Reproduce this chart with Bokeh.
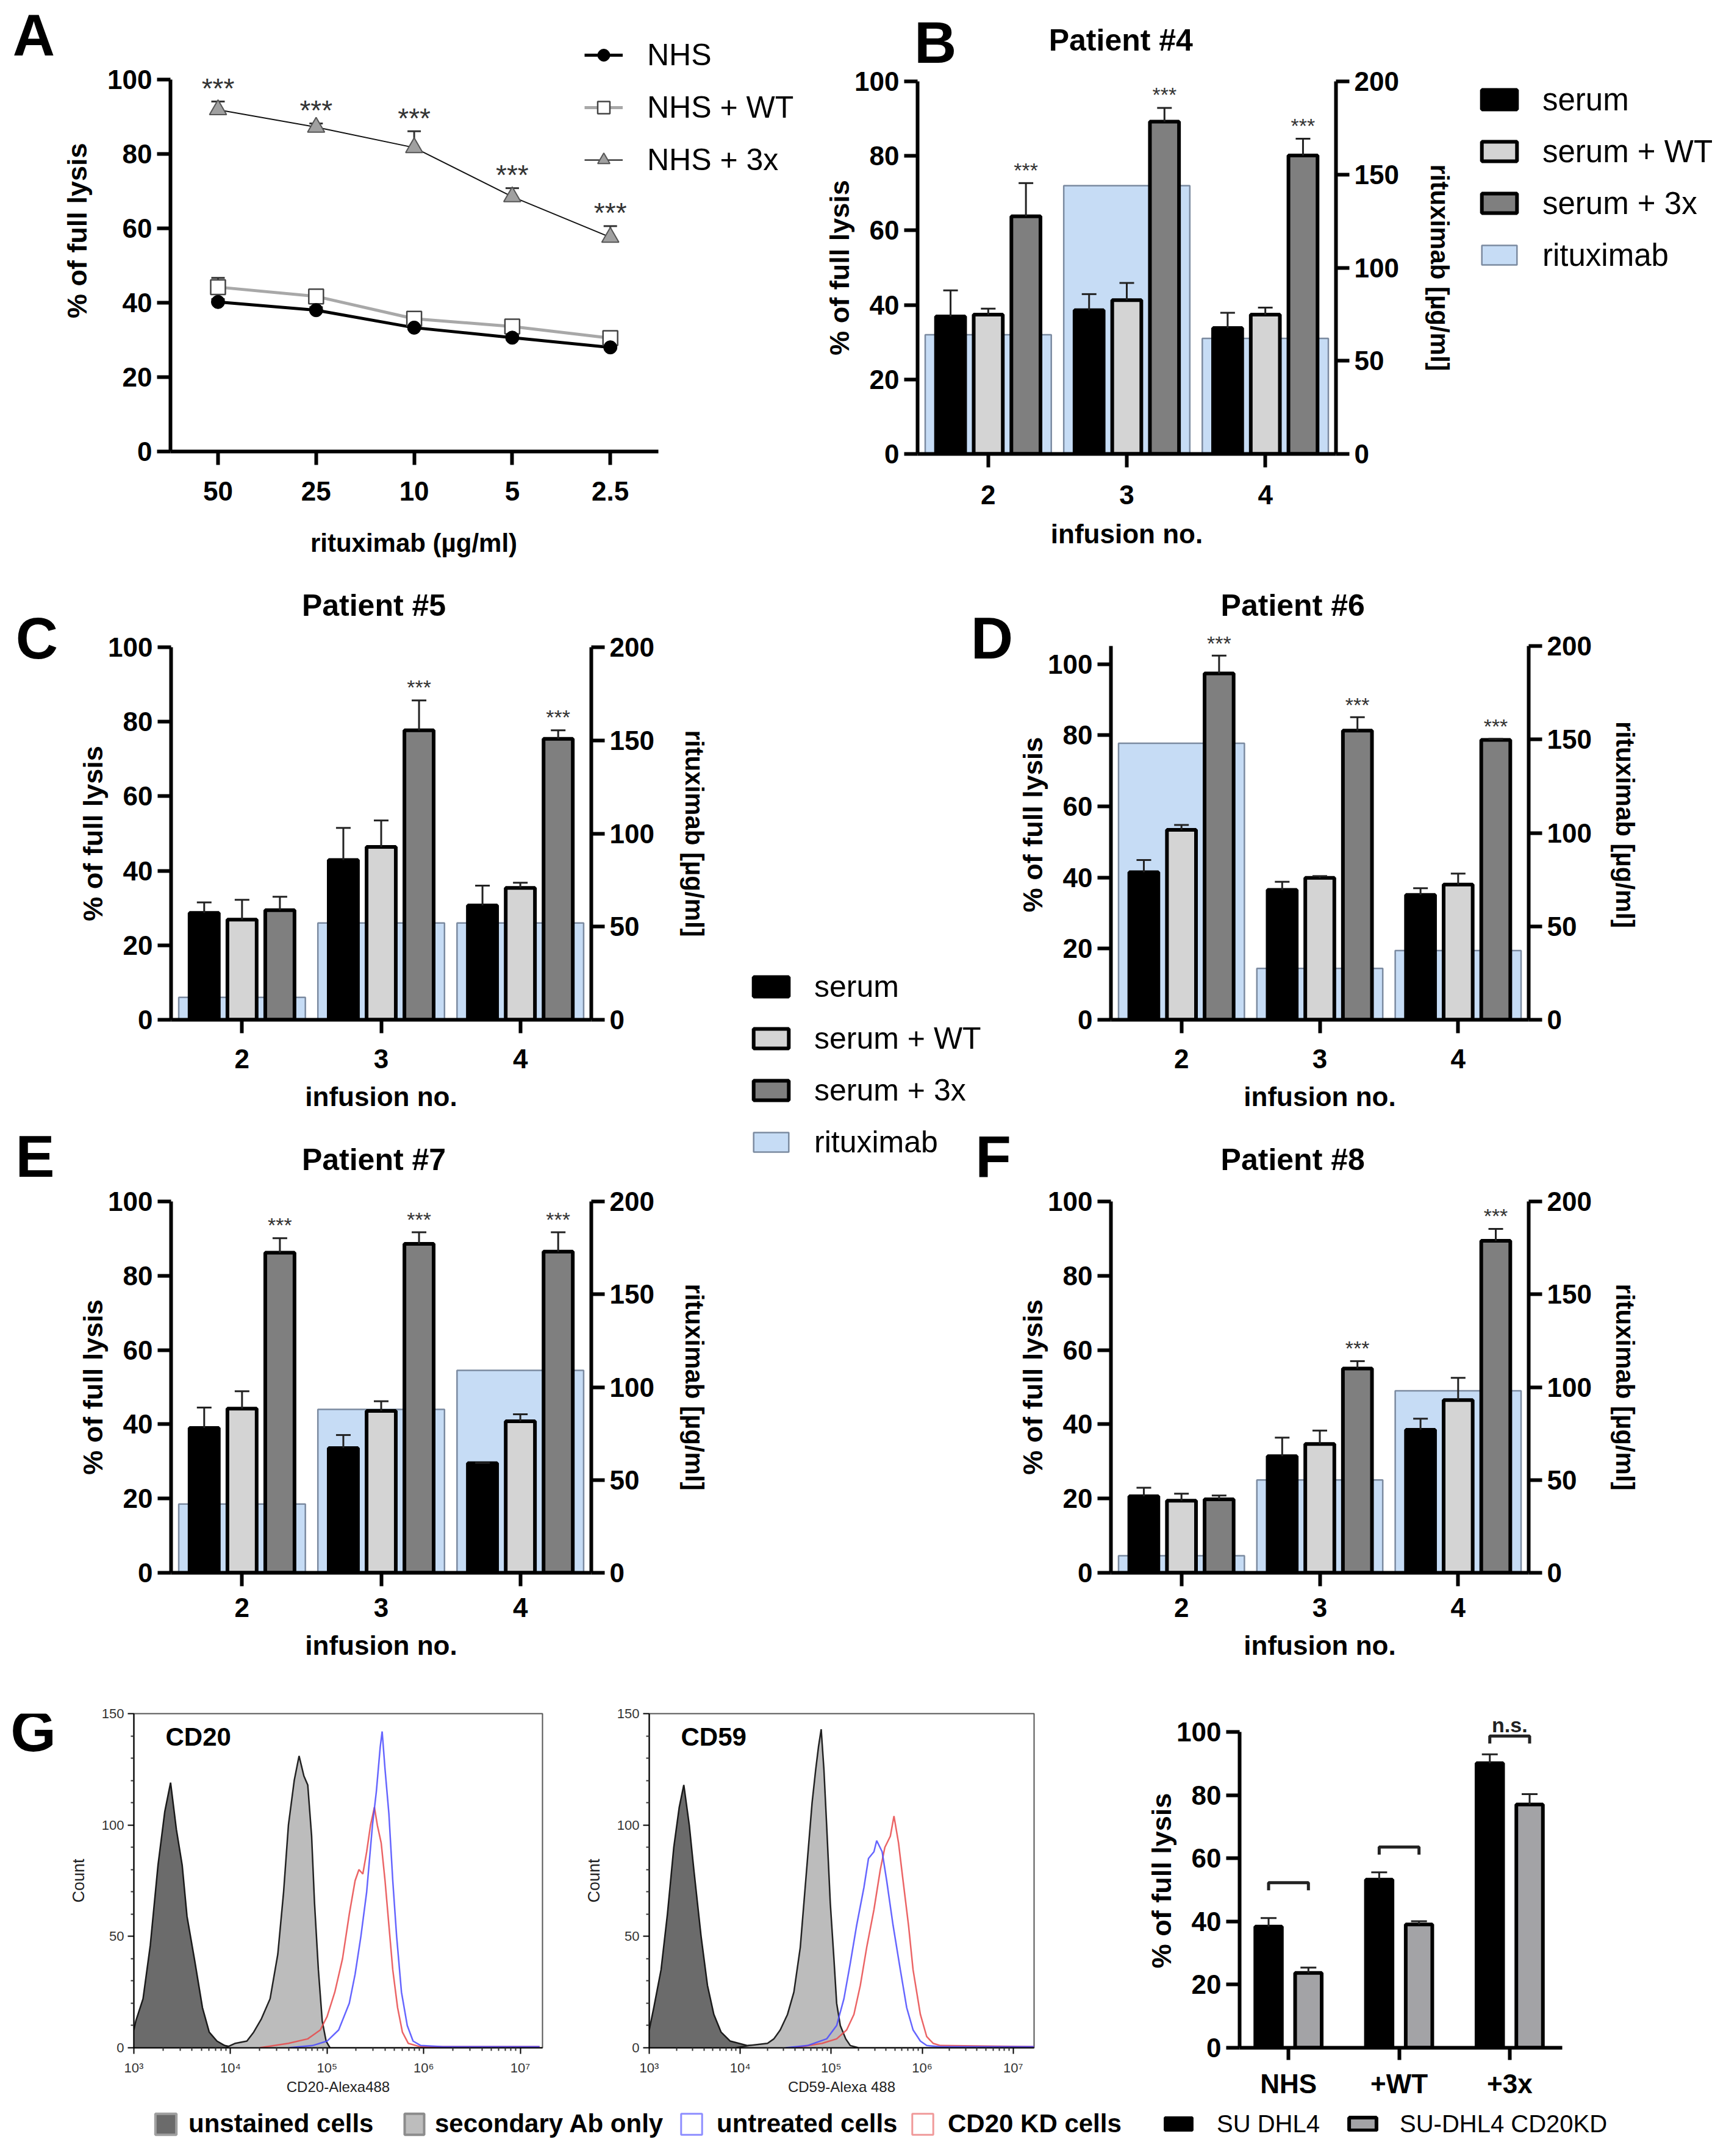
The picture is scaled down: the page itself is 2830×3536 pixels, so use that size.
import math
from bokeh.plotting import figure
from bokeh.models import (Range1d, LinearAxis, FixedTicker, ColumnDataSource, Whisker,
                          TeeHead, LabelSet, Legend, LegendItem)
from bokeh.layouts import row, column
from bokeh.embed import file_html
from bokeh.resources import INLINE
from bokeh.core.properties import value

FONT = "Liberation Sans"

# ------------------------------------------------------------------ data
conc_labels = ["50", "25", "10", "5", "2.5"]
nhs = [40.2, 38.0, 33.3, 30.6, 28.0]
nhs_up = [41.0, 38.8, 34.1, 31.3, 28.8]
nhs_wt = [44.2, 41.7, 35.7, 33.6, 30.5]
nhs_wt_up = [46.7, 42.6, 36.6, 34.3, 31.4]
nhs_3x = [91.9, 87.2, 81.7, 68.5, 57.6]
nhs_3x_up = [94.1, 88.2, 86.1, 70.8, 60.6]

infusions = [2, 3, 4]
p4_serum = [36.9, 38.6, 33.8];  p4_serum_up = [43.9, 42.9, 37.9]
p4_wt = [37.4, 41.3, 37.4];     p4_wt_up = [39.0, 45.9, 39.3]
p4_3x = [63.8, 89.2, 80.1];     p4_3x_up = [72.7, 92.9, 84.6]
p4_rit = [64, 144, 62];         p4_star = [True, True, True]

p5_serum = [28.7, 42.9, 30.7];  p5_serum_up = [31.5, 51.5, 36.0]
p5_wt = [26.9, 46.4, 35.4];     p5_wt_up = [32.2, 53.5, 36.8]
p5_3x = [29.4, 77.7, 75.4];     p5_3x_up = [33.0, 85.7, 77.7]
p5_rit = [12, 52, 52];          p5_star = [False, True, True]

p6_serum = [41.5, 36.5, 35.1];  p6_serum_up = [44.9, 38.8, 37.0]
p6_wt = [53.4, 39.9, 38.0];     p6_wt_up = [54.8, 40.4, 41.1]
p6_3x = [97.4, 81.3, 78.7];     p6_3x_up = [102.4, 85.1, 79.0]
p6_rit = [148, 27.5, 37];       p6_star = [True, True, True]

p7_serum = [39.0, 33.6, 29.5];  p7_serum_up = [44.5, 37.1, 29.6]
p7_wt = [44.2, 43.6, 40.8];     p7_wt_up = [48.9, 46.2, 42.7]
p7_3x = [86.2, 88.6, 86.5];     p7_3x_up = [90.1, 91.7, 91.7]
p7_rit = [37, 88, 109];         p7_star = [True, True, True]

p8_serum = [20.6, 31.4, 38.5];  p8_serum_up = [22.9, 36.4, 41.5]
p8_wt = [19.4, 34.7, 46.5];     p8_wt_up = [21.3, 38.3, 52.5]
p8_3x = [19.8, 55.0, 89.4];     p8_3x_up = [20.8, 57.0, 92.6]
p8_rit = [9.2, 50, 98];         p8_star = [False, True, True]

cd20_unst_x = [3.00, 3.02, 3.095, 3.17, 3.25, 3.32, 3.38, 3.44, 3.50, 3.55, 3.63, 3.71, 3.78, 3.86, 3.94, 4.05]
cd20_unst_y = [8, 12, 22, 46, 82, 106, 119, 98, 82, 59, 39, 18, 7, 3, 1, 0]
cd20_sec_x = [3.95, 4.05, 4.17, 4.24, 4.32, 4.41, 4.49, 4.55, 4.60, 4.66, 4.71, 4.76, 4.80, 4.84, 4.87, 4.91, 4.95, 4.99, 5.03]
cd20_sec_y = [0, 2, 3, 7, 13, 22, 42, 70, 100, 120, 131, 122, 118, 95, 65, 35, 12, 3, 0]
cd20_unt_x = [4.60, 4.85, 5.00, 5.12, 5.23, 5.29, 5.35, 5.41, 5.47, 5.51, 5.55, 5.57, 5.60, 5.64, 5.68, 5.72, 5.77, 5.83, 5.89, 5.97, 6.2, 7.2]
cd20_unt_y = [0, 1, 3, 8, 20, 33, 50, 70, 100, 115, 135, 142, 125, 105, 75, 50, 25, 10, 3, 1, 0.5, 0.5]
cd20_kd_x = [4.3, 4.6, 4.8, 4.93, 5.00, 5.08, 5.16, 5.23, 5.29, 5.33, 5.37, 5.41, 5.45, 5.49, 5.52, 5.56, 5.60, 5.64, 5.68, 5.73, 5.78, 5.84, 5.96, 7.2]
cd20_kd_y = [0, 2, 4, 8, 14, 25, 40, 60, 75, 80, 78, 88, 100, 108, 100, 92, 75, 55, 35, 18, 7, 2, 0.5, 0.5]

cd59_unst_x = [3.0, 3.05, 3.13, 3.20, 3.27, 3.33, 3.38, 3.44, 3.49, 3.57, 3.64, 3.71, 3.79, 3.89, 4.08, 4.22, 4.3]
cd59_unst_y = [8, 18, 35, 60, 90, 108, 118, 100, 80, 50, 28, 15, 7, 3, 1, 1, 0]
cd59_sec_x = [3.95, 4.1, 4.3, 4.37, 4.44, 4.52, 4.59, 4.66, 4.74, 4.79, 4.83, 4.86, 4.89, 4.92, 4.95, 4.99, 5.03, 5.06, 5.10, 5.16, 5.21, 5.3]
cd59_sec_y = [0, 1, 2, 4, 8, 15, 25, 45, 85, 110, 125, 135, 143, 125, 100, 65, 40, 20, 10, 4, 1, 0]
cd59_unt_x = [4.5, 4.74, 4.95, 5.06, 5.14, 5.21, 5.28, 5.36, 5.41, 5.47, 5.50, 5.56, 5.61, 5.68, 5.76, 5.83, 5.90, 5.98, 6.05, 6.2, 7.23]
cd59_unt_y = [0, 1, 4, 10, 22, 38, 55, 72, 85, 88, 93, 88, 75, 55, 35, 18, 8, 3, 1, 0.5, 0.5]
cd59_kd_x = [4.6, 4.9, 5.06, 5.17, 5.25, 5.32, 5.39, 5.47, 5.54, 5.59, 5.65, 5.69, 5.74, 5.79, 5.85, 5.90, 5.98, 6.05, 6.12, 6.20, 7.23]
cd59_kd_y = [0, 2, 4, 8, 15, 28, 45, 62, 80, 90, 95, 104, 92, 75, 55, 35, 15, 5, 2, 1, 0.5]

g_labels = ["NHS", "+WT", "+3x"]
su = [38.4, 53.3, 90.2];      su_up = [41.1, 55.6, 93.0]
su_kd = [23.7, 39.1, 77.1];   su_kd_up = [25.4, 40.1, 80.4]
bracket_y = [52.3, 63.6, 98.8]

# ------------------------------------------------------------------ style
WT_FILL = "#d4d4d4"
X3_FILL = "#7f7f7f"
RIT_FILL = "#c6dcf5"
RIT_LINE = "#7b8aa0"
CAT_OFF = 0.272
BAR_W = 0.21
RIT_W = 0.91
LEG_ADJ = 4
LETTER = "96px"


def make_fig(fig_box, frame_box, x_range, y_range, axes=True):
    fx0, fy0, W, H = fig_box
    L, R, T, B = frame_box
    kw = {}
    if not axes:
        kw = dict(x_axis_location=None, y_axis_location=None)
    p = figure(width=W, height=H, x_range=x_range, y_range=y_range,
               output_backend="svg", toolbar_location=None,
               min_border_left=L - fx0, min_border_right=fx0 + W - R,
               min_border_top=T - fy0, min_border_bottom=fy0 + H - B, **kw)
    p.outline_line_color = None
    p.grid.visible = False
    p.background_fill_color = "white"
    p.border_fill_color = "white"
    return p


def text_fig(x0, y0, W, H):
    return make_fig((x0, y0, W, H), (x0, x0 + W, y0, y0 + H),
                    Range1d(x0, x0 + W), Range1d(y0 + H, y0), axes=False)


def put_text(p, x, y, text, size, bold=True, angle=0.0, align="center", color="black"):
    p.text(x=[x], y=[y], text=[text], angle=angle, text_font=value(FONT),
           text_font_size=value(size), text_font_style=value("bold" if bold else "normal"),
           text_align=value(align), text_baseline=value("middle"), text_color=value(color))


def style_axis(ax, size="44px", standoff=8, tick_out=22, width=6, bold=True, color="black"):
    ax.axis_line_width = width
    ax.axis_line_color = "black"
    ax.major_tick_line_width = width
    ax.major_tick_line_color = "black"
    ax.major_tick_out = tick_out
    ax.major_tick_in = 0
    ax.minor_tick_line_color = None
    ax.major_label_text_font = FONT
    ax.major_label_text_font_style = "bold" if bold else "normal"
    ax.major_label_text_font_size = size
    ax.major_label_text_color = color
    ax.major_label_standoff = standoff


def axis_title(ax, text, size, standoff, bold=True, color="black"):
    ax.axis_label = text
    ax.axis_label_text_font = FONT
    ax.axis_label_text_font_size = size
    ax.axis_label_text_font_style = "bold" if bold else "normal"
    ax.axis_label_text_color = color
    ax.axis_label_standoff = standoff


def whiskers(p, src, color="#222", cap=24, level="glyph"):
    p.add_layout(Whisker(source=src, base="x", upper="up", lower="y", dimension="height",
                         line_width=3, line_color=color,
                         upper_head=TeeHead(size=cap, line_width=3, line_color=color),
                         lower_head=None, level=level))


def stars(p, xs, ups, flags, pad, size):
    sx = [x for x, f in zip(xs, flags) if f]
    sy = [u + pad for u, f in zip(ups, flags) if f]
    src = ColumnDataSource(dict(x=sx, y=sy, t=["***"] * len(sx)))
    p.add_layout(LabelSet(x="x", y="y", text="t", source=src, text_align="center",
                          text_baseline="middle", text_font=value(FONT),
                          text_font_size=value(size), text_color="#333"))


def make_legend(items, loc, gw, gh, lh, spacing, standoff, size, bold=False):
    return Legend(items=items, location=loc, orientation="vertical",
                  glyph_width=gw, glyph_height=gh, label_height=lh, spacing=spacing,
                  label_standoff=standoff, padding=0, margin=0,
                  border_line_color=None, background_fill_alpha=0,
                  inactive_fill_alpha=0,
                  label_text_font=FONT, label_text_font_size=size,
                  label_text_font_style="bold" if bold else "normal",
                  label_text_color="black")


def bar_series(p, xs, vals, ups, fill, line_width=6, width=BAR_W, cap=24):
    src = ColumnDataSource(dict(x=xs, y=vals, up=ups))
    whiskers(p, src, cap=cap)
    return p.vbar(x="x", top="y", source=src, width=width, bottom=0,
                  fill_color=fill, line_color="black", line_width=line_width)


# ------------------------------------------------------------------ panel A
stripA = text_fig(8, 8, 152, 852)
put_text(stripA, 63, 74, "A", LETTER)
put_text(stripA, 134, 443, "% of full lysis", "45px", angle=math.pi / 2)
xlabA = text_fig(8, 860, 1332, 80)
put_text(xlabA, 686, 898, "rituximab (µg/ml)", "42px")

A_frame = (287, 1340, 8, 748)
a_ppu = (748 - 138) / 100.0
a_xppu = (1087 - 287) / (4.49 + 0.485)
pA = make_fig((160, 8, 1180, 852), A_frame,
              Range1d(-0.485, 4.49 + (1340 - 1087) / a_xppu),
              Range1d(0, (748 - 8) / a_ppu))
xa_pos = list(range(len(conc_labels)))
srcA_wt = ColumnDataSource(dict(x=xa_pos, y=nhs_wt, up=nhs_wt_up))
srcA_n = ColumnDataSource(dict(x=xa_pos, y=nhs, up=nhs_up))
srcA_3 = ColumnDataSource(dict(x=xa_pos, y=nhs_3x, up=nhs_3x_up))
for s in (srcA_wt, srcA_n, srcA_3):
    whiskers(pA, s, color="#333", cap=22, level="underlay")
l_wt = pA.line("x", "y", source=srcA_wt, line_color="#a8a8a8", line_width=5)
l_n = pA.line("x", "y", source=srcA_n, line_color="black", line_width=5)
l_3 = pA.line("x", "y", source=srcA_3, line_color="#111", line_width=2)
m_wt = pA.scatter("x", "y", source=srcA_wt, marker="square", size=24,
                  fill_color="white", line_color="#444", line_width=2.5)
m_n = pA.scatter("x", "y", source=srcA_n, marker="circle", size=22,
                 fill_color="black", line_color="black")
m_3 = pA.scatter("x", "y", source=srcA_3, marker="triangle", size=28,
                 fill_color="#a0a0a0", line_color="#555", line_width=2)
stars(pA, xa_pos, nhs_3x_up, [True] * 5, 3.5, "46px")
ax = pA.xaxis[0]
ax.ticker = FixedTicker(ticks=xa_pos)
ax.bounds = (-0.485, 4.49)
ax.major_label_overrides = {i: t for i, t in enumerate(conc_labels)}
style_axis(ax, standoff=27)
ay = pA.yaxis[0]
ay.ticker = FixedTicker(ticks=[0, 20, 40, 60, 80, 100])
ay.bounds = (0, 100)
style_axis(ay)
pA.add_layout(make_legend([LegendItem(label="NHS", renderers=[l_n, m_n]),
                           LegendItem(label="NHS + WT", renderers=[l_wt, m_wt]),
                           LegendItem(label="NHS + 3x", renderers=[l_3, m_3])],
                          (679, 452 - LEG_ADJ), 63, 50, 60, 26, 40, "50px"))


# ------------------------------------------------------------------ panels B-F
def infusion_panel(fig_box, frame_box, axis_top_px, ymax_axis, serum, serum_up, wt, wt_up,
                   x3, x3_up, rit, flags, right_standoff=30, tick_standoff=26, xlab_standoff=19):
    L, R, T, B = frame_box
    ppu = (B - axis_top_px) / ymax_axis
    ytop = (B - T) / ppu
    p = make_fig(fig_box, frame_box, Range1d(1.49, 4.51), Range1d(0, ytop))
    p.extra_y_ranges = {"rit": Range1d(0, 200 * ytop / ymax_axis)}
    cats = infusions
    xs_s = [c - CAT_OFF for c in cats]
    xs_3 = [c + CAT_OFF for c in cats]
    r_rit = p.vbar(x=cats, top=rit, width=RIT_W, bottom=0, y_range_name="rit",
                   fill_color=RIT_FILL, line_color=RIT_LINE, line_width=2.5)
    r_s = bar_series(p, xs_s, serum, serum_up, "black")
    r_w = bar_series(p, list(cats), wt, wt_up, WT_FILL)
    r_3 = bar_series(p, xs_3, x3, x3_up, X3_FILL)
    stars(p, xs_3, x3_up, flags, 3.5, "34px")
    xa = p.xaxis[0]
    xa.ticker = FixedTicker(ticks=cats)
    style_axis(xa, standoff=tick_standoff)
    axis_title(xa, "infusion no.", "44px", xlab_standoff)
    ya = p.yaxis[0]
    ya.ticker = FixedTicker(ticks=[0, 20, 40, 60, 80, 100])
    ya.bounds = (0, ymax_axis)
    style_axis(ya)
    axis_title(ya, "% of full lysis", "45px", -4)
    ra = LinearAxis(y_range_name="rit", ticker=FixedTicker(ticks=[0, 50, 100, 150, 200]),
                    bounds=(0, 200))
    style_axis(ra)
    axis_title(ra, "rituximab [µg/ml]", "42px", right_standoff)
    p.add_layout(ra, "right")
    return p, (r_s, r_w, r_3, r_rit)


headerB = text_fig(1340, 8, 1060, 112)
put_text(headerB, 1385, 77, "B", LETTER)
put_text(headerB, 1855, 73, "Patient #4", "50px")
pB, rB = infusion_panel((1340, 120, 1060, 820), (1512, 2198, 141, 752), 141, 100,
                        p4_serum, p4_serum_up, p4_wt, p4_wt_up, p4_3x, p4_3x_up, p4_rit, p4_star,
                        40, 29, 21)
legB = make_fig((2400, 8, 422, 932), (2400, 2822, 8, 940), Range1d(0, 1), Range1d(0, 1), axes=False)
lb_s = legB.vbar(x=infusions, top=p4_serum, width=BAR_W, fill_color="black", line_color="black", line_width=6, visible=False)
lb_w = legB.vbar(x=infusions, top=p4_wt, width=BAR_W, fill_color=WT_FILL, line_color="black", line_width=6, visible=False)
lb_3 = legB.vbar(x=infusions, top=p4_3x, width=BAR_W, fill_color=X3_FILL, line_color="black", line_width=6, visible=False)
lb_r = legB.vbar(x=infusions, top=p4_rit, width=RIT_W, fill_color=RIT_FILL, line_color=RIT_LINE, line_width=2.5, visible=False)
legB.add_layout(make_legend([LegendItem(label="serum", renderers=[lb_s]),
                             LegendItem(label="serum + WT", renderers=[lb_w]),
                             LegendItem(label="serum + 3x", renderers=[lb_3]),
                             LegendItem(label="rituximab", renderers=[lb_r])],
                            (30, 940 - 452 - LEG_ADJ), 72, 40, 60, 25, 35, "51px"))

stripCE = text_fig(8, 940, 97, 1805)
put_text(stripCE, 68, 1054, "C", LETTER)
put_text(stripCE, 65, 1904, "E", LETTER)

headerC = text_fig(105, 940, 1093, 105)
put_text(headerC, 632.5, 1000, "Patient #5", "50px")
pC, _ = infusion_panel((105, 1045, 1093, 800), (288, 977, 1069, 1680), 1069, 100,
                       p5_serum, p5_serum_up, p5_wt, p5_wt_up, p5_3x, p5_3x_up, p5_rit, p5_star,
                       39, 26, 19)
headerE = text_fig(105, 1845, 1093, 105)
put_text(headerE, 632.5, 1909, "Patient #7", "50px")
pE, _ = infusion_panel((105, 1950, 1093, 795), (288, 977, 1978, 2587), 1978, 100,
                       p7_serum, p7_serum_up, p7_wt, p7_wt_up, p7_3x, p7_3x_up, p7_rit, p7_star,
                       39, 19, 19)

pM = text_fig(1198, 940, 472, 1805)
put_text(pM, 1634, 1054, "D", LETTER)
put_text(pM, 1636, 1904, "F", LETTER)
mr_s = pM.vbar(x=infusions, top=p5_serum, width=BAR_W, fill_color="black", line_color="black", line_width=6, visible=False)
mr_w = pM.vbar(x=infusions, top=p5_wt, width=BAR_W, fill_color=WT_FILL, line_color="black", line_width=6, visible=False)
mr_3 = pM.vbar(x=infusions, top=p5_3x, width=BAR_W, fill_color=X3_FILL, line_color="black", line_width=6, visible=False)
mr_r = pM.vbar(x=infusions, top=p5_rit, width=RIT_W, fill_color=RIT_FILL, line_color=RIT_LINE, line_width=2.5, visible=False)
pM.add_layout(make_legend([LegendItem(label="serum", renderers=[mr_s]),
                           LegendItem(label="serum + WT", renderers=[mr_w]),
                           LegendItem(label="serum + 3x", renderers=[mr_3]),
                           LegendItem(label="rituximab", renderers=[mr_r])],
                          (38, 2745 - 1907 - LEG_ADJ), 72, 40, 60, 25, 35, "50px"))

headerD = text_fig(1670, 940, 1152, 90)
put_text(headerD, 2171.5, 1000, "Patient #6", "50px")
pD, _ = infusion_panel((1670, 1030, 1152, 815), (1829, 2514, 1040, 1680), 1067, 105.1,
                       p6_serum, p6_serum_up, p6_wt, p6_wt_up, p6_3x, p6_3x_up, p6_rit, p6_star,
                       28, 26, 19)
headerF = text_fig(1670, 1845, 1152, 105)
put_text(headerF, 2171.5, 1909, "Patient #8", "50px")
pF, _ = infusion_panel((1670, 1950, 1152, 795), (1829, 2514, 1978, 2587), 1978, 100,
                       p8_serum, p8_serum_up, p8_wt, p8_wt_up, p8_3x, p8_3x_up, p8_rit, p8_star,
                       28, 19, 19)


# ------------------------------------------------------------------ panel G histograms
def hist_panel(fig_box, frame_box, unst, sec, unt, kd, xlabel, name):
    p = make_fig(fig_box, frame_box, Range1d(3.0, 7.23), Range1d(0, 150))
    p.outline_line_color = "#555"
    p.outline_line_width = 2
    p.varea(x=unst[0], y1=0, y2=unst[1], fill_color="#6b6b6b")
    p.line(unst[0], unst[1], line_color="#1a1a1a", line_width=2.5)
    p.varea(x=sec[0], y1=0, y2=sec[1], fill_color="#bcbcbc")
    p.line(sec[0], sec[1], line_color="#222", line_width=2.5)
    p.line(kd[0], kd[1], line_color="#e8494a", line_width=2.5, line_alpha=0.85)
    p.line(unt[0], unt[1], line_color="#4a4aff", line_width=2.5, line_alpha=0.85)
    xa = p.xaxis[0]
    xa.ticker = FixedTicker(ticks=[3, 4, 5, 6, 7],
                            minor_ticks=[d + math.log10(k) for d in range(3, 7) for k in range(2, 10)])
    xa.major_label_overrides = {3: "10³", 4: "10⁴", 5: "10⁵", 6: "10⁶", 7: "10⁷"}
    ya = p.yaxis[0]
    ya.ticker = FixedTicker(ticks=[0, 50, 100, 150],
                            minor_ticks=[v for v in range(10, 150, 10) if v % 50])
    for a in (xa, ya):
        style_axis(a, size="22px", standoff=6, tick_out=10, width=2, bold=False, color="#333")
        a.minor_tick_line_color = "#333"
        a.minor_tick_line_width = 2
        a.minor_tick_out = 5
        a.minor_tick_in = 0
    xa.major_label_standoff = 10
    axis_title(xa, xlabel, "24px", 2, bold=False, color="#222")
    axis_title(ya, "Count", "27px", 20, bold=False, color="#222")
    L, R, T, B = frame_box
    put_text(p, 3.0 + (4.23 / (R - L)) * 52, 150 - (150 / (B - T)) * 39, name, "42px", align="left")
    return p


stripG = text_fig(8, 2745, 97, 710)
put_text(stripG, 62, 2781, "G", LETTER)
pG1 = hist_panel((105, 2745, 835, 710), (227, 897, 2818, 3377), (cd20_unst_x, cd20_unst_y),
                 (cd20_sec_x, cd20_sec_y), (cd20_unt_x, cd20_unt_y), (cd20_kd_x, cd20_kd_y),
                 "CD20-Alexa488", "CD20")
pG2 = hist_panel((940, 2745, 820, 710), (1072, 1703, 2818, 3377), (cd59_unst_x, cd59_unst_y),
                 (cd59_sec_x, cd59_sec_y), (cd59_unt_x, cd59_unt_y), (cd59_kd_x, cd59_kd_y),
                 "CD59-Alexa 488", "CD59")

# ------------------------------------------------------------------ panel G bars
G3_frame = (2040, 2569, 2790, 3366)
g_ppu = (3366 - 2822) / 100.0
pG3 = make_fig((1760, 2745, 1062, 710), G3_frame, Range1d(-0.442, 2.475),
               Range1d(0, (3366 - 2790) / g_ppu))
g_pos = list(range(len(g_labels)))
G_OFF = 0.18
g_xs1 = [c - G_OFF for c in g_pos]
g_xs2 = [c + G_OFF for c in g_pos]
bar_series(pG3, g_xs1, su, su_up, "black", width=0.24, cap=26)
bar_series(pG3, g_xs2, su_kd, su_kd_up, "#a3a3a6", width=0.24, cap=26)
pG3.multi_line(xs=[[a, a, b, b] for a, b in zip(g_xs1, g_xs2)],
               ys=[[y - 2.4, y, y, y - 2.4] for y in bracket_y],
               line_color="#222", line_width=5)
put_text(pG3, g_pos[2], bracket_y[2] + 3.6, "n.s.", "34px", color="#222")
xa = pG3.xaxis[0]
xa.ticker = FixedTicker(ticks=g_pos)
xa.bounds = (-0.442, 2.475)
xa.major_label_overrides = {i: t for i, t in enumerate(g_labels)}
style_axis(xa, standoff=14, tick_out=20)
ya = pG3.yaxis[0]
ya.ticker = FixedTicker(ticks=[0, 20, 40, 60, 80, 100])
ya.bounds = (0, 100)
style_axis(ya)
axis_title(ya, "% of full lysis", "45px", -4)

# ------------------------------------------------------------------ bottom legend
pL = make_fig((8, 3455, 2814, 73), (8, 2822, 3455, 3528), Range1d(0, 1), Range1d(0, 1), axes=False)
lr_unst = pL.patch(cd20_unst_x, cd20_unst_y, fill_color="#6b6b6b", line_color="#a0a0a0", line_width=4, visible=False)
lr_sec = pL.patch(cd20_sec_x, cd20_sec_y, fill_color="#bdbdbd", line_color="#8c8c8c", line_width=4, visible=False)
lr_unt = pL.patch(cd20_unt_x, cd20_unt_y, fill_alpha=0, line_color="#8e8eff", line_width=3, visible=False)
lr_kd = pL.patch(cd20_kd_x, cd20_kd_y, fill_alpha=0, line_color="#f09a9a", line_width=3, visible=False)
lr_su = pL.vbar(x=g_pos, top=su, width=0.24, fill_color="black", line_color="black", line_width=4, visible=False)
lr_kdb = pL.vbar(x=g_pos, top=su_kd, width=0.24, fill_color="#a3a3a6", line_color="black", line_width=6, visible=False)
for lab, rend, vx, gw, gh, stand, size, bold in [
        ("unstained cells", lr_unst, 250, 43, 43, 16, "42px", True),
        ("secondary Ab only", lr_sec, 659, 40, 43, 14, "42px", True),
        ("untreated cells", lr_unt, 1112, 43, 43, 20, "42px", True),
        ("CD20 KD cells", lr_kd, 1491, 43, 43, 20, "42px", True),
        ("SU DHL4", lr_su, 1904, 56, 26, 35, "40px", False),
        ("SU-DHL4 CD20KD", lr_kdb, 2206, 56, 26, 33, "40px", False)]:
    pL.add_layout(make_legend([LegendItem(label=lab, renderers=[rend])], (vx, 13), gw, gh, 48, 0,
                              stand, size, bold=bold))

layout = column(
    row(column(row(stripA, pA), xlabA), column(headerB, pB), legB),
    row(stripCE, column(headerC, pC, headerE, pE), pM, column(headerD, pD, headerF, pF)),
    row(stripG, pG1, pG2, pG3),
    pL,
)

with open("out.html", "w", encoding="utf-8") as f:
    f.write(file_html(layout, INLINE))
